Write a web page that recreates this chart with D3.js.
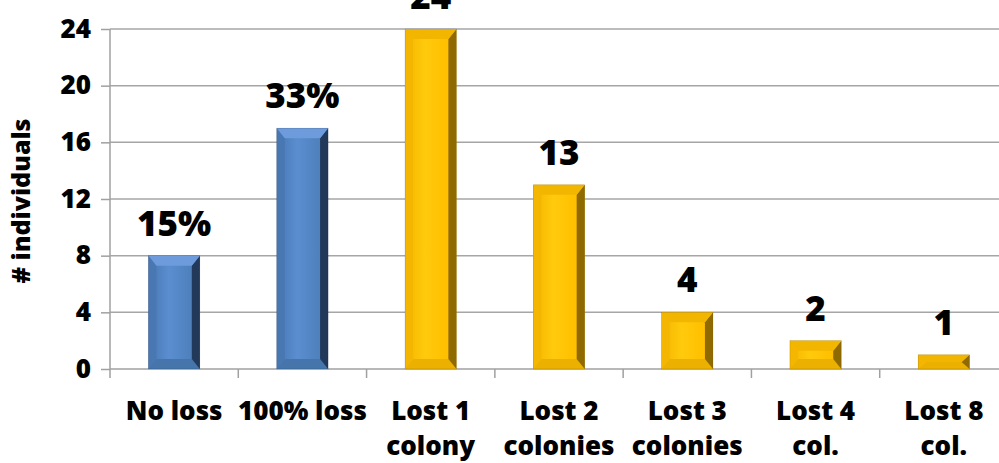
<!DOCTYPE html>
<html><head><meta charset="utf-8">
<script src="https://cdn.jsdelivr.net/npm/d3@7"></script>
<style>body{margin:0;background:#fff}svg{display:block}</style>
</head><body>
<svg id="c" width="999" height="463"></svg>
<script>
const categories = [["No loss"],["100% loss"],["Lost 1","colony"],["Lost 2","colonies"],["Lost 3","colonies"],["Lost 4","col."],["Lost 8","col."]];
const values = [8,17,24,13,4,2,1];
const valueLabels = ["15%","33%","24","13","4","2","1"];
const groups = ["blue","blue","gold","gold","gold","gold","gold"];
const yTicks = [0,4,8,12,16,20,24];
const yTitle = "# individuals";

const palette = {
  blue:{face:"#4f81bd",light:"#5a8ed0",left:"#4877b2",right:"#22395a",top:"#6d9bdc",bottom:"#4675ab"},
  gold:{face:"#ffc000",light:"#ffca0c",left:"#f4b600",right:"#8f6a00",top:"#f3b600",bottom:"#ebb000"}
};
const font = "'Open Sans', Lato, sans-serif";
const svg = d3.select("#c");
const x = d3.scaleBand().domain(d3.range(categories.length)).range([110,1008]).padding(0);
const y = d3.scaleLinear().domain([0,24]).range([369,29]);
const defs = svg.append("defs");
Object.entries(palette).forEach(([k,p])=>{
  const g = defs.append("linearGradient").attr("id","g_"+k).attr("x1","0").attr("x2","1").attr("y1","0").attr("y2","0");
  g.append("stop").attr("offset","0").attr("stop-color",p.left);
  g.append("stop").attr("offset","0.4").attr("stop-color",p.light);
  g.append("stop").attr("offset","0.8").attr("stop-color",p.face);
  g.append("stop").attr("offset","1").attr("stop-color",p.face);
});
// gridlines
svg.append("g").selectAll("line").data(yTicks.slice(1)).join("line")
  .attr("x1",110).attr("x2",999).attr("y1",d=>y(d)).attr("y2",d=>y(d))
  .attr("stroke","#a6a6a6").attr("stroke-width",1.5);
// y axis
const ya = svg.append("g").attr("transform","translate(110,0)").call(d3.axisLeft(y).tickValues(yTicks).tickSize(9).tickPadding(10));
ya.select(".domain").attr("stroke","#a0a0a0").attr("stroke-width",1.5).attr("d","M0,"+y(24)+"V378");
ya.selectAll(".tick line").attr("stroke","#a0a0a0").attr("stroke-width",1.5);
ya.selectAll("text").attr("font-family",font).attr("font-weight","800").attr("font-size","26px").attr("fill","#000");
// x axis baseline
svg.append("line").attr("x1",110).attr("x2",999).attr("y1",y(0)).attr("y2",y(0)).attr("stroke","#a0a0a0").attr("stroke-width",1.5);
svg.append("g").selectAll("line").data(d3.range(1,categories.length)).join("line")
  .attr("x1",d=>x(d)).attr("x2",d=>x(d)).attr("y1",y(0)).attr("y2",y(0)+9)
  .attr("stroke","#a0a0a0").attr("stroke-width",1.5);
// bars
const bw = x.bandwidth()*0.4;
const bars = svg.append("g").selectAll("g").data(values).join("g");
bars.each(function(v,i){
  const p = palette[groups[i]];
  const g = d3.select(this);
  const x0 = x(i)+x.bandwidth()/2-bw/2, x1 = x0+bw;
  const t = y(v), b = y(0);
  const h = b-t;
  const d = Math.min(10, h/2), s = Math.min(8, bw/3);
  g.append("rect").attr("x",x0).attr("y",t).attr("width",bw).attr("height",h).attr("fill","url(#g_"+groups[i]+")");
  const poly = (pts,fill)=>g.append("polygon").attr("points",pts.map(q=>q.join(",")).join(" ")).attr("fill",fill);
  poly([[x0,b],[x0+s,b-d],[x1-s,b-d],[x1,b]],p.bottom);
  poly([[x0,t],[x0+s,t+d],[x0+s,b-d],[x0,b]],p.left);
  poly([[x1,t],[x1,b],[x1-s,b-d],[x1-s,t+d]],p.right);
  poly([[x0,t],[x1,t],[x1-s,t+d],[x0+s,t+d]],p.top);
  g.append("rect").attr("x",x0).attr("y",t).attr("width",bw).attr("height",h).attr("fill","none").attr("stroke","rgba(0,0,0,0.2)").attr("stroke-width",0.6);
});
// value labels
svg.append("g").selectAll("text").data(values).join("text")
  .attr("x",(v,i)=>x(i)+x.bandwidth()/2).attr("y",v=>y(v)-20)
  .attr("text-anchor","middle").attr("font-family",font).attr("font-weight","800").attr("font-size","35px")
  .text((v,i)=>valueLabels[i]);
// category labels
svg.append("g").selectAll("text").data(categories).join("text")
  .attr("x",(c,i)=>x(i)+x.bandwidth()/2).attr("y",420)
  .attr("text-anchor","middle").attr("font-family",font).attr("font-weight","800").attr("font-size","26px")
  .each(function(c){
    const t = d3.select(this);
    c.forEach((line,k)=>t.append("tspan").attr("x",t.attr("x")).attr("dy",k?35:0).text(line));
  });
// y title
svg.append("text").attr("transform","translate(30,201) rotate(-90)").attr("text-anchor","middle")
  .attr("font-family",font).attr("font-weight","800").attr("font-size","25px").text(yTitle);
</script>
</body></html>
